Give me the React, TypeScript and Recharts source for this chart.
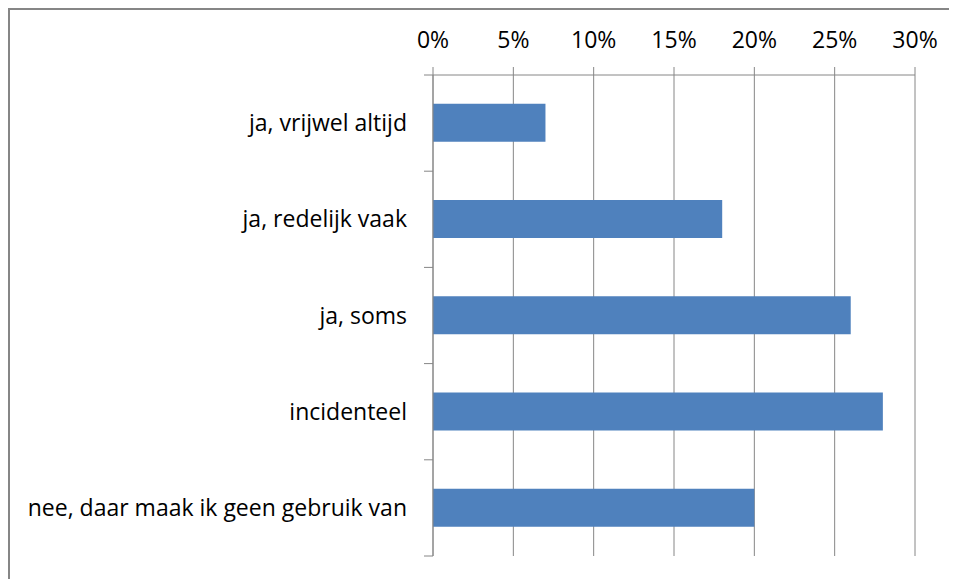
import React from 'react'
import { BarChart, Bar, XAxis, YAxis, CartesianGrid } from 'recharts'

const categories = [
  'ja, vrijwel altijd',
  'ja, redelijk vaak',
  'ja, soms',
  'incidenteel',
  'nee, daar maak ik geen gebruik van',
]
const percentages = [7, 18, 26, 28, 20]
const xTicks = [0, 5, 10, 15, 20, 25, 30]

const data = categories.map((name, i) => ({ name, value: percentages[i] }))

const gray = '#868686'
const font = "'Open Sans', sans-serif"
const LABEL_GAP = 26

// Excel style: tick marks sit between the categories, not at their centres
const CategoryTick = (props: any) => {
  const { x, y, payload, index, visibleTicksCount } = props
  const half = payload?.offset ?? 0
  const axisX = x + LABEL_GAP
  const last = index === visibleTicksCount - 1
  return (
    <g>
      <line x1={axisX - 9} x2={axisX} y1={y - half} y2={y - half} stroke={gray} />
      {last && <line x1={axisX - 9} x2={axisX} y1={y + half} y2={y + half} stroke={gray} />}
      <text x={x} y={y} dy="0.355em" textAnchor="end" fill="#000" fontSize={23} fontFamily={font}>
        {payload.value}
      </text>
    </g>
  )
}

export default function App() {
  return (
    <div
      style={{
        width: 949,
        height: 571,
        borderLeft: `2px solid ${gray}`,
        borderTop: `2px solid ${gray}`,
        boxSizing: 'border-box',
        fontFamily: font,
      }}
    >
      <BarChart
        width={947}
        height={569}
        data={data}
        layout="vertical"
        margin={{ top: 0, right: 42, bottom: 23, left: 0 }}
        barCategoryGap="30%"
      >
        <CartesianGrid horizontal={false} stroke={gray} />
        <XAxis
          type="number"
          orientation="top"
          domain={[0, 30]}
          ticks={xTicks}
          tickFormatter={(v) => `${v}%`}
          height={65}
          tickSize={8}
          tickMargin={19}
          stroke={gray}
          tick={{ fill: '#000', fontSize: 23, fontFamily: font }}
          interval={0}
        />
        <YAxis
          type="category"
          dataKey="name"
          width={423}
          stroke={gray}
          tickLine={false}
          tickSize={0}
          tickMargin={LABEL_GAP}
          tick={<CategoryTick />}
          interval={0}
        />
        <Bar dataKey="value" fill="#4F81BD" isAnimationActive={false} />
      </BarChart>
    </div>
  )
}
